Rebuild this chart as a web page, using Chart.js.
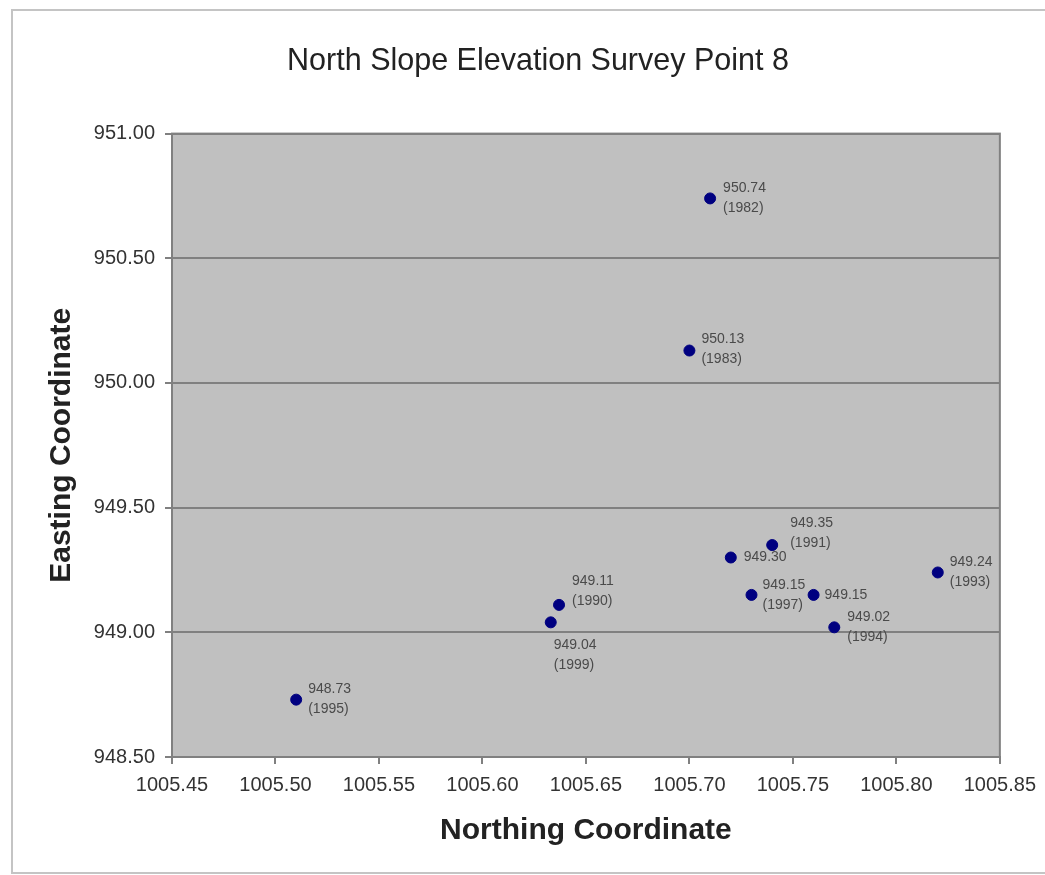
<!DOCTYPE html>
<html>
<head>
<meta charset="utf-8">
<script src="https://cdn.jsdelivr.net/npm/chart.js@4.4.1/dist/chart.umd.min.js"></script>
<style>
  html, body { margin: 0; padding: 0; background: #ffffff; overflow: hidden; }
  #wrap { position: relative; width: 1045px; height: 875px; overflow: hidden; }
  #frame { position: absolute; left: 11px; top: 9px; width: 1060px; height: 865px;
           border: 2px solid #c4c4c4; box-sizing: border-box; pointer-events: none; }
  canvas { position: absolute; left: 0; top: 0; }
</style>
</head>
<body>
<div id="wrap">
  <canvas id="c" width="1045" height="875"></canvas>
  <div id="frame"></div>
</div>
<script>
// ---- Data ----
const northing = [1005.71, 1005.70, 1005.74, 1005.72, 1005.82, 1005.77, 1005.51, 1005.76, 1005.73, 1005.637, 1005.633];
const easting  = [950.74, 950.13, 949.35, 949.30, 949.24, 949.02, 948.73, 949.15, 949.15, 949.11, 949.04];
const years    = ['1982', '1983', '1991', '', '1993', '1994', '1995', '', '1997', '1990', '1999'];

const xTickMin = 1005.45, xTickMax = 1005.85, xTickStep = 0.05;
const yTickMin = 948.50,  yTickMax = 951.00,  yTickStep = 0.50;

const titleText = 'North Slope Elevation Survey Point 8';
const xTitle = 'Northing Coordinate';
const yTitle = 'Easting Coordinate';

// label placement (pixel offsets from point: [dx, dy of label block centre])
const labelOffsets = [[13, 0], [12, -1], [18, -12], [13, 0], [12, 0], [13, 0], [12, -1], [11, 0], [11, 0], [13, -14], [3, 33]];

const FONT = "'Liberation Sans', Arial, Helvetica, sans-serif";

const points = northing.map((x, i) => ({ x: x, y: easting[i] }));
const labels = easting.map((v, i) => years[i] ? [v.toFixed(2), '(' + years[i] + ')'] : [v.toFixed(2)]);

const plotArea = {
  id: 'plotArea',
  beforeDraw(chart) {
    const { ctx, chartArea: a } = chart;
    ctx.save();
    ctx.fillStyle = '#c0c0c0';
    ctx.fillRect(a.left, a.top, a.right - a.left, a.bottom - a.top);
    ctx.restore();
  },
  afterDraw(chart) {
    const { ctx, chartArea: a } = chart;
    ctx.save();
    ctx.strokeStyle = '#808080';
    ctx.lineWidth = 2;
    ctx.strokeRect(a.left, a.top, a.right - a.left, a.bottom - a.top);
    ctx.restore();
  }
};

const pointLabels = {
  id: 'pointLabels',
  afterDatasetsDraw(chart) {
    const { ctx } = chart;
    const meta = chart.getDatasetMeta(0);
    ctx.save();
    ctx.font = '14px ' + FONT;
    ctx.fillStyle = '#4a4a4a';
    ctx.textAlign = 'left';
    ctx.textBaseline = 'middle';
    const lh = 20;
    meta.data.forEach((el, i) => {
      const lines = labels[i];
      const [dx, dy] = labelOffsets[i];
      const startY = el.y + dy - (lines.length - 1) * lh / 2;
      lines.forEach((t, j) => ctx.fillText(t, el.x + dx, startY + j * lh));
    });
    ctx.restore();
  }
};

new Chart(document.getElementById('c'), {
  type: 'scatter',
  data: {
    datasets: [{
      data: points,
      backgroundColor: '#000080',
      borderColor: '#000080',
      pointRadius: 5.5,
      pointHoverRadius: 5.5,
      pointStyle: 'circle'
    }]
  },
  options: {
    responsive: false,
    animation: false,
    layout: { padding: { left: 76, right: 45, top: 0, bottom: 0 } },
    plugins: {
      legend: { display: false },
      tooltip: { enabled: false },
      title: {
        display: true,
        text: titleText,
        color: '#222222',
        font: { family: FONT, size: 30.5, weight: 'normal' },
        padding: { top: 43, bottom: 54 }
      }
    },
    scales: {
      x: {
        type: 'linear',
        min: xTickMin, max: xTickMax,
        afterFit(scale) { scale.height = 118; },
        ticks: {
          stepSize: xTickStep,
          color: '#333333',
          font: { family: FONT, size: 20 },
          padding: 9,
          maxRotation: 0,
          callback: v => Number(v).toFixed(2)
        },
        grid: { display: true, drawOnChartArea: false, drawTicks: true, tickLength: 7, color: '#808080', lineWidth: 2 },
        border: { display: true, color: '#808080', width: 2 },
        title: {
          display: true, text: xTitle, color: '#222222',
          font: { family: FONT, size: 30, weight: 'bold' },
          padding: { top: 0, bottom: 26 }
        }
      },
      y: {
        type: 'linear',
        min: yTickMin, max: yTickMax,
        afterFit(scale) { scale.width = 96; },
        ticks: {
          stepSize: yTickStep,
          color: '#333333',
          font: { family: FONT, size: 20 },
          padding: 10,
          callback: v => Number(v).toFixed(2)
        },
        grid: { display: true, drawTicks: true, tickLength: 7, color: '#808080', lineWidth: 2 },
        border: { display: true, color: '#808080', width: 2 },
        title: {
          display: true, text: yTitle, color: '#222222',
          font: { family: FONT, size: 30, weight: 'bold' },
          padding: { top: -32, bottom: 0 }
        }
      }
    }
  },
  plugins: [plotArea, pointLabels]
});
</script>
</body>
</html>
